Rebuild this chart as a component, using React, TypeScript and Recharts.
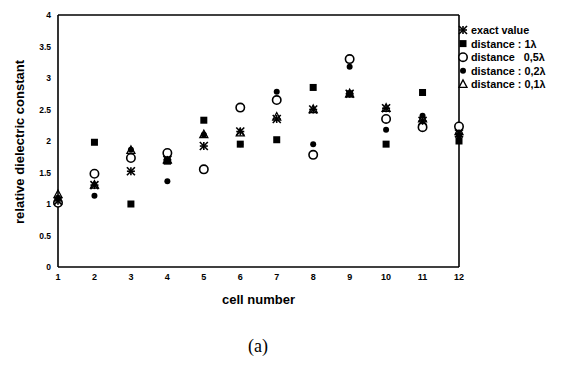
import React from "react";
import { ScatterChart, Scatter, XAxis, YAxis, ReferenceLine } from "recharts";

const cells = [1, 2, 3, 4, 5, 6, 7, 8, 9, 10, 11, 12];
const exactValue = [1.05, 1.3, 1.52, 1.7, 1.92, 2.15, 2.35, 2.5, 2.75, 2.52, 2.32, 2.12];
const dist1 = [1.05, 1.98, 1.0, 1.68, 2.33, 1.95, 2.02, 2.85, 2.75, 1.95, 2.77, 2.0];
const dist05 = [1.02, 1.48, 1.73, 1.81, 1.55, 2.53, 2.65, 1.78, 3.3, 2.35, 2.22, 2.23];
const dist02 = [1.1, 1.13, 1.86, 1.36, 2.1, 1.95, 2.78, 1.95, 3.18, 2.18, 2.4, 2.08];
const dist01 = [1.15, 1.3, 1.85, 1.7, 2.1, 2.13, 2.38, 2.5, 2.75, 2.52, 2.35, 2.15];
const yTicks = [0, 0.5, 1, 1.5, 2, 2.5, 3, 3.5, 4];
const legendLabels = [
  "exact value",
  "distance : 1\u03bb",
  "distance \u00a0 0,5\u03bb",
  "distance : 0,2\u03bb",
  "distance : 0,1\u03bb",
];

const FONT = "Liberation Sans, Arial, sans-serif";

const toPoints = (vals: number[]) => cells.map((c, i) => ({ x: c, y: vals[i] }));

function Asterisk({ cx, cy }: any) {
  const s = 4;
  return (
    <g stroke="#000" strokeWidth={1.6}>
      <line x1={cx - s} y1={cy} x2={cx + s} y2={cy} />
      <line x1={cx} y1={cy - s} x2={cx} y2={cy + s} />
      <line x1={cx - s} y1={cy - s} x2={cx + s} y2={cy + s} />
      <line x1={cx - s} y1={cy + s} x2={cx + s} y2={cy - s} />
    </g>
  );
}

function Square({ cx, cy }: any) {
  return <rect x={cx - 3.5} y={cy - 3.5} width={7} height={7} fill="#000" />;
}

function OpenCircle({ cx, cy }: any) {
  return <circle cx={cx} cy={cy} r={4.2} fill="#fff" stroke="#000" strokeWidth={1.6} />;
}

function Dot({ cx, cy }: any) {
  return <circle cx={cx} cy={cy} r={3} fill="#000" />;
}

function Triangle({ cx, cy }: any) {
  return (
    <polygon
      points={`${cx},${cy - 4.5} ${cx - 4},${cy + 3} ${cx + 4},${cy + 3}`}
      fill="none"
      stroke="#000"
      strokeWidth={1.3}
    />
  );
}

const shapes = [Asterisk, Square, OpenCircle, Dot, Triangle];

function LegendBox() {
  return (
    <svg width={110} height={80} style={{ position: "absolute", left: 457, top: 22 }}>
      {legendLabels.map((label, i) => {
        const Shape = shapes[i];
        const y = 8 + i * 13.6;
        return (
          <g key={label}>
            <Shape cx={6} cy={y} />
            <text x={14} y={y + 4} fontSize={10.8} fontWeight="bold" fontFamily={FONT} fill="#000">
              {label}
            </text>
          </g>
        );
      })}
    </svg>
  );
}

function YLabel() {
  return (
    <text
      transform="translate(24,142) rotate(-90)"
      textAnchor="middle"
      fontSize={13}
      fontWeight="bold"
      fontFamily={FONT}
      fill="#000"
    >
      relative dielectric constant
    </text>
  );
}

export default function App() {
  return (
    <div style={{ position: "absolute", left: 0, top: 0, width: 567, height: 365, background: "#fff" }}>
      <ScatterChart width={567} height={365} margin={{ top: 15, right: 108, bottom: 0, left: 0 }}>
        <XAxis
          type="number"
          dataKey="x"
          domain={[1, 12]}
          ticks={cells}
          interval={0}
          height={98}
          tickLine={false}
          tickSize={5}
          axisLine={{ stroke: "#000", strokeWidth: 1.6 }}
          tick={{ fill: "#000", fontSize: 9, fontWeight: "bold", fontFamily: FONT }}
          label={{
            value: "cell number",
            position: "insideTop",
            offset: 28,
            fill: "#000",
            fontSize: 13,
            fontWeight: "bold",
            fontFamily: FONT,
          }}
        />
        <YAxis
          type="number"
          dataKey="y"
          domain={[0, 4]}
          ticks={yTicks}
          interval={0}
          width={58}
          tickLine={false}
          tickSize={5}
          axisLine={{ stroke: "#000", strokeWidth: 1.6 }}
          tick={{ fill: "#000", fontSize: 8.5, fontWeight: "bold", fontFamily: FONT }}
          label={<YLabel />}
        />
        <ReferenceLine y={4} stroke="#000" strokeWidth={1.6} />
        <ReferenceLine x={12} stroke="#000" strokeWidth={1.6} />
        <Scatter name="distance : 0,1λ" data={toPoints(dist01)} shape={<Triangle />} isAnimationActive={false} />
        <Scatter name="distance : 1λ" data={toPoints(dist1)} shape={<Square />} isAnimationActive={false} />
        <Scatter name="distance 0,5λ" data={toPoints(dist05)} shape={<OpenCircle />} isAnimationActive={false} />
        <Scatter name="distance : 0,2λ" data={toPoints(dist02)} shape={<Dot />} isAnimationActive={false} />
        <Scatter name="exact value" data={toPoints(exactValue)} shape={<Asterisk />} isAnimationActive={false} />
      </ScatterChart>
      <LegendBox />
      <div
        style={{
          position: "absolute",
          left: 0,
          width: 516,
          top: 336,
          textAlign: "center",
          fontFamily: "Liberation Serif, serif",
          fontSize: 18,
        }}
      >
        (a)
      </div>
    </div>
  );
}
